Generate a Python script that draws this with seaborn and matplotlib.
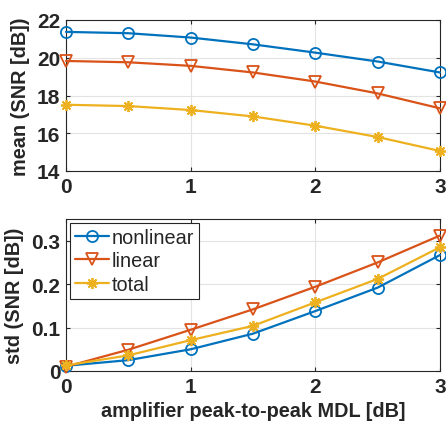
import numpy as np
import pandas as pd
import seaborn as sns
import matplotlib
matplotlib.use("Agg")
import matplotlib.pyplot as plt
from matplotlib.lines import Line2D

mdl = [0, 0.5, 1, 1.5, 2, 2.5, 3]
mean_nonlinear = [21.37, 21.30, 21.07, 20.71, 20.27, 19.80, 19.22]
mean_linear = [19.83, 19.76, 19.57, 19.22, 18.74, 18.11, 17.32]
mean_total = [17.51, 17.44, 17.23, 16.89, 16.40, 15.80, 15.06]
std_nonlinear = [0.012, 0.025, 0.050, 0.086, 0.138, 0.192, 0.267]
std_linear = [0.010, 0.049, 0.095, 0.142, 0.194, 0.250, 0.312]
std_total = [0.013, 0.036, 0.071, 0.104, 0.158, 0.212, 0.285]
series = ["nonlinear", "linear", "total"]
colors = ["#0072BD", "#D95319", "#EDB120"]
markers = ["o", "v", (8, 2, 0)]

sns.set_theme(style="whitegrid")
plt.rcParams["font.family"] = ["Liberation Sans", "DejaVu Sans"]

fig = plt.figure(figsize=(4.46, 4.27), dpi=100)
W, H = 446, 427
ax1 = fig.add_axes([66 / W, 1 - 172 / H, (440 - 66) / W, (172 - 21) / H])
ax2 = fig.add_axes([66 / W, 1 - 372 / H, (440 - 66) / W, (372 - 220) / H])

mean_data = [mean_nonlinear, mean_linear, mean_total]
std_data = [std_nonlinear, std_linear, std_total]

for ax, data in [(ax1, mean_data), (ax2, std_data)]:
    for name, vals, c, m in zip(series, data, colors, markers):
        df = pd.DataFrame({"x": mdl, "y": vals})
        sns.lineplot(data=df, x="x", y="y", ax=ax, color=c, marker=m,
                     markersize=8, mec=c, mfc="none", mew=1.3, lw=1.6,
                     clip_on=False, zorder=3)
    ax.set_xlim(0, 3)
    ax.set_xticks([0, 1, 2, 3])
    ax.set_facecolor("white")
    ax.grid(True, color="#e3e3e3", lw=0.8)
    for s in ax.spines.values():
        s.set_color("#262626")
        s.set_linewidth(0.8)
    ax.tick_params(axis="both", which="both", direction="in", length=3,
                   width=0.8, color="#262626", labelsize=15, pad=4,
                   top=True, right=True, bottom=True, left=True)

ax1.set_ylim(14, 22)
ax1.set_yticks([14, 16, 18, 20, 22])
ax1.set_xlabel("")
ax1.set_ylabel("mean (SNR [dB])", fontsize=14.3, fontweight="bold", color="#262626", labelpad=5)

ax2.set_ylim(0, 0.35)
ax2.set_yticks([0, 0.1, 0.2, 0.3])
ax2.set_yticklabels(["0", "0.1", "0.2", "0.3"])
ax2.set_xlabel("amplifier peak-to-peak MDL [dB]", fontsize=14.3, fontweight="bold", color="#262626", labelpad=4)
ax2.set_ylabel("std (SNR [dB])", fontsize=14.3, fontweight="bold", color="#262626", labelpad=5)

for ax in (ax1, ax2):
    for lab in ax.get_xticklabels() + ax.get_yticklabels():
        lab.set_fontweight("bold")
        lab.set_color("#262626")

handles = [Line2D([], [], color=c, marker=m, markersize=8, mec=c, mfc="none",
                  mew=1.3, lw=1.6) for c, m in zip(colors, markers)]
leg = ax2.legend(handles, series, loc="upper left", fontsize=14.3, frameon=True,
                 fancybox=False, edgecolor="#262626", handlelength=1.7,
                 handletextpad=0.15, labelspacing=0.22, borderpad=0.25,
                 borderaxespad=0.2, framealpha=1)
leg.get_frame().set_linewidth(0.8)

fig.savefig("out.png", dpi=100)
